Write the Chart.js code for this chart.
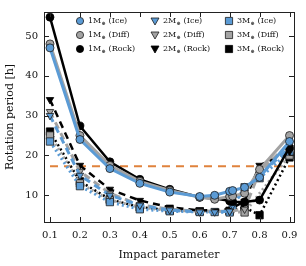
<!DOCTYPE html>
<html>
<head>
<meta charset="utf-8">
<script src="https://cdn.jsdelivr.net/npm/chart.js@4"></script>
<style>
  html, body { margin: 0; padding: 0; background: #fff; }
  #wrap { width: 306px; height: 266px; }
</style>
</head>
<body>
<div id="wrap"><canvas id="myChart" width="306" height="266"></canvas></div>
<script>
// impact parameters sampled
const impact = [0.1, 0.2, 0.3, 0.4, 0.5, 0.6, 0.65, 0.7, 0.71, 0.75, 0.8, 0.9];

// rotation period [h], null where no run
const m1_ice  = [47.0, 24.0, 16.7, 13.0, 10.8, 9.7, 10.0, 11.0, 11.2, 12.0, 14.5, 23.5];
const m1_diff = [48.0, 25.0, 17.5, 13.5, 11.2, 9.5, 9.0, 9.7, 9.8, 10.5, 16.5, 25.0];
const m1_rock = [54.7, 27.4, 18.4, 14.0, 11.5, 9.5, 9.2, 8.6, 8.4, 8.3, 8.8, 22.0];

const m2_ice  = [30.0, 15.0, 10.0, 7.5, 6.3, 5.8, 5.8, 6.0, 7.5, 11.5, 15.0, 22.0];
const m2_diff = [31.0, 16.0, 10.5, 7.6, 6.5, 6.0, null, 6.0, null, 6.5, 16.0, 23.0];
const m2_rock = [34.0, 17.5, 11.5, 8.7, 7.0, 6.2, null, 6.5, null, 8.5, 17.5, 21.0];

const m3_ice  = [23.5, 12.3, 8.3, 6.5, 6.0, 5.8, 5.8, 5.7, 7.3, 12.0, 14.3, 21.0];
const m3_diff = [25.0, 13.0, 8.8, 7.0, 6.2, 6.0, null, 6.0, null, 5.7, null, 20.0];
const m3_rock = [26.0, 13.5, 9.0, 7.0, 6.3, 6.0, null, 6.0, null, 7.0, 5.0, 19.5];

const threshold = 17.3;

const xTicks = [0.1, 0.2, 0.3, 0.4, 0.5, 0.6, 0.7, 0.8, 0.9];
const yTicks = [10, 20, 30, 40, 50];

const BLUE = '#5b9bd5';
const GRAY = '#a3a3a3';
const BLACK = '#000000';
const EDGE = '#1c1c1c';
const ORANGE = '#e0823c';

let pts = (vals) => impact.map((x, i) => vals[i] == null ? null : {x: x, y: vals[i]}).filter(p => p);

let series = [
    {label: '1M', comp: 'Ice',  vals: m1_ice,  color: BLUE,  style: 'circle',   dash: [],     lw: 3,   order: 1},
    {label: '1M', comp: 'Diff', vals: m1_diff, color: GRAY,  style: 'circle',   dash: [],     lw: 3,   order: 2},
    {label: '1M', comp: 'Rock', vals: m1_rock, color: BLACK, style: 'circle',   dash: [],     lw: 2.5, order: 3},
    {label: '2M', comp: 'Ice',  vals: m2_ice,  color: BLUE,  style: 'triangle', dash: [7, 5], lw: 3,   order: 4},
    {label: '2M', comp: 'Diff', vals: m2_diff, color: GRAY,  style: 'triangle', dash: [7, 5], lw: 3,   order: 5},
    {label: '2M', comp: 'Rock', vals: m2_rock, color: BLACK, style: 'triangle', dash: [7, 5], lw: 2.5, order: 6},
    {label: '3M', comp: 'Ice',  vals: m3_ice,  color: BLUE,  style: 'rect',     dash: [2, 3], lw: 3,   order: 7},
    {label: '3M', comp: 'Diff', vals: m3_diff, color: GRAY,  style: 'rect',     dash: [2, 3], lw: 3,   order: 8},
    {label: '3M', comp: 'Rock', vals: m3_rock, color: BLACK, style: 'rect',     dash: [2, 3], lw: 2.5, order: 9},
];

let radiusFor = (style) => style == 'rect' ? 5.2 : (style == 'triangle' ? 4.3 : 4.0);

let datasets = series.map(s => ({
    label: s.label + ' (' + s.comp + ')',
    data: pts(s.vals),
    showLine: true,
    spanGaps: true,
    borderColor: s.color,
    borderWidth: s.lw,
    borderDash: s.dash,
    pointStyle: s.style,
    pointRotation: s.style == 'triangle' ? 180 : 0,
    pointRadius: radiusFor(s.style),
    pointBackgroundColor: s.color,
    pointBorderColor: s.color == BLACK ? BLACK : EDGE,
    pointBorderWidth: 0.8,
    order: s.order
}));

datasets.push({
    label: 'threshold',
    data: [{x: 0.1, y: threshold}, {x: 0.92, y: threshold}],
    showLine: true,
    borderColor: ORANGE,
    borderWidth: 2,
    borderDash: [8, 6],
    pointRadius: 0,
    order: 20
});

const SERIF = '"DejaVu Serif", serif';

// frame, inward ticks and 3x3 legend, drawn on top of the chart
let frame = {
    id: 'frame',
    afterDraw(chart) {
        let ctx = chart.ctx;
        let a = chart.chartArea;
        let xs = chart.scales.x, ys = chart.scales.y;
        ctx.save();
        ctx.strokeStyle = '#222';
        ctx.lineWidth = 1;
        ctx.setLineDash([]);
        ctx.strokeRect(a.left + 0.5, a.top + 0.5, a.right - a.left, a.bottom - a.top);
        ctx.beginPath();
        for (let v of xTicks) {
            let px = Math.round(xs.getPixelForValue(v)) + 0.5;
            ctx.moveTo(px, a.bottom); ctx.lineTo(px, a.bottom - 5);
            ctx.moveTo(px, a.top); ctx.lineTo(px, a.top + 5);
        }
        for (let v of yTicks) {
            let py = Math.round(ys.getPixelForValue(v)) + 0.5;
            ctx.moveTo(a.left, py); ctx.lineTo(a.left + 5, py);
            ctx.moveTo(a.right, py); ctx.lineTo(a.right - 5, py);
        }
        ctx.stroke();

        // legend
        let colX = [80, 155, 229];
        let rowY = [21, 35, 49];
        series.forEach((s, i) => {
            let c = Math.floor(i / 3), r = i % 3;
            let mx = colX[c], my = rowY[r];
            ctx.fillStyle = s.color;
            ctx.strokeStyle = s.color == BLACK ? BLACK : EDGE;
            ctx.lineWidth = 0.8;
            ctx.beginPath();
            if (s.style == 'circle') {
                ctx.arc(mx, my, 3.6, 0, Math.PI * 2);
            } else if (s.style == 'triangle') {
                ctx.moveTo(mx - 4, my - 3);
                ctx.lineTo(mx + 4, my - 3);
                ctx.lineTo(mx, my + 4);
                ctx.closePath();
            } else {
                ctx.rect(mx - 3.6, my - 3.6, 7.2, 7.2);
            }
            ctx.fill();
            ctx.stroke();

            let tx = mx + 8;
            ctx.fillStyle = '#111';
            ctx.textBaseline = 'middle';
            ctx.font = '8px ' + SERIF;
            ctx.fillText(s.label, tx, my);
            tx += ctx.measureText(s.label).width;
            ctx.font = '5px ' + SERIF;
            ctx.fillText('\u2295', tx + 0.3, my + 2.5);
            tx += ctx.measureText('\u2295').width + 0.6;
            ctx.font = '8px ' + SERIF;
            ctx.fillText(' (' + s.comp + ')', tx, my);
        });
        ctx.restore();
    }
};

let myChart = new Chart('myChart', {
    type: 'scatter',
    data: {datasets: datasets},
    plugins: [frame],
    options: {
        responsive: false,
        animation: false,
        events: [],
        layout: {padding: {top: 10, right: 12, left: 0, bottom: 0}},
        plugins: {
            legend: {display: false},
            tooltip: {enabled: false}
        },
        scales: {
            x: {
                type: 'linear',
                min: 0.08,
                max: 0.915,
                afterFit: (s) => { s.height = 44; },
                afterBuildTicks: (s) => { s.ticks = xTicks.map(v => ({value: v})); },
                grid: {display: false, drawTicks: false},
                border: {display: false},
                ticks: {
                    padding: 7,
                    color: '#111',
                    font: {family: SERIF, size: 10},
                    callback: (v) => v.toFixed(1)
                },
                title: {
                    display: true,
                    text: 'Impact parameter',
                    color: '#111',
                    font: {family: SERIF, size: 11},
                    padding: {top: 3}
                }
            },
            y: {
                min: 3.3,
                max: 56,
                afterFit: (s) => { s.width = 44; },
                afterBuildTicks: (s) => { s.ticks = yTicks.map(v => ({value: v})); },
                grid: {display: false, drawTicks: false},
                border: {display: false},
                ticks: {
                    padding: 6,
                    color: '#111',
                    font: {family: SERIF, size: 10}
                },
                title: {
                    display: true,
                    text: 'Rotation period [h]',
                    color: '#111',
                    font: {family: SERIF, size: 11},
                    padding: {bottom: 2}
                }
            }
        }
    }
});
</script>
</body>
</html>
